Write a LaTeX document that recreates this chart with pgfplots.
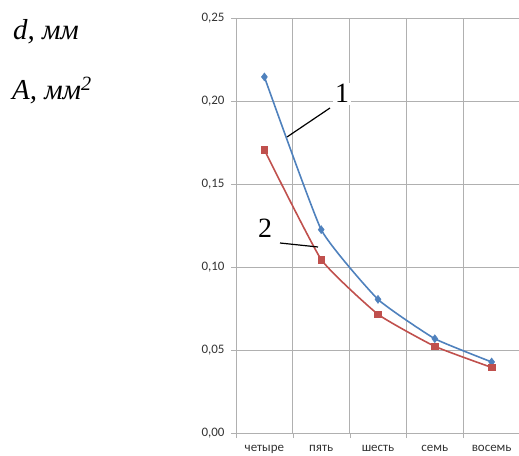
\documentclass[border=0pt]{standalone}
\usepackage{fontspec}
\setmainfont{Carlito}
\newfontfamily\serif{Liberation Serif}
\usepackage{pgfplots}
\usetikzlibrary{calc}
\pgfplotsset{compat=1.18}
\definecolor{xblue}{HTML}{4F81BD}
\definecolor{xred}{HTML}{C0504D}
\definecolor{xgrid}{HTML}{B0B0B0}
\begin{document}
\begin{tikzpicture}
\begin{axis}[
  scale only axis, width=284bp, height=415bp,
  xmin=-0.5, xmax=4.5, ymin=0, ymax=0.25,
  xtick={0,1,2,3,4},
  xticklabels={четыре,пять,шесть,семь,восемь},
  major x tick style={draw=none},
  minor xtick={-0.5,0.5,1.5,2.5,3.5,4.5},
  xminorgrids=true,
  minor tick length=5bp,
  ytick={0,0.05,0.1,0.15,0.2,0.25},
  ymajorgrids=true,
  major tick length=5bp,
  tick align=outside,
  axis line style={xgrid},
  tick style={xgrid},
  grid style={xgrid, line width=0.8pt},
  minor grid style={xgrid, line width=0.8pt},
  ticklabel style={font=\fontsize{13}{15}\selectfont, text=black!80},
  xticklabel style={yshift=-4bp},
  yticklabel style={xshift=-3bp, /pgf/number format/.cd, fixed, fixed zerofill, precision=2, use comma, assume math mode=true},
  xtick pos=bottom, ytick pos=left,
  clip=false,
]
\coordinate (O) at (rel axis cs:0,0);
\addplot[xblue, line width=1.6pt, smooth, tension=0.25, mark=diamond*, mark size=4pt, mark options={fill=xblue, line width=0.5pt}]
  coordinates {(0,0.2145) (1,0.1225) (2,0.0805) (3,0.0568) (4,0.0428)};
\addplot[xred, line width=1.6pt, smooth, tension=0.25, mark=square*, mark size=3.3pt, mark options={fill=xred, line width=0.5pt}]
  coordinates {(0,0.1705) (1,0.1045) (2,0.0715) (3,0.0522) (4,0.0395)};
\end{axis}
\begin{scope}[shift={($(O)+(-236bp,433bp)$)}, x=1bp, y=-1bp]
  \node[anchor=base west, inner sep=0, font=\serif\itshape\fontsize{29}{32}\selectfont] at (13,40) {d, мм};
  \node[anchor=base west, inner sep=0, font=\serif\itshape\fontsize{29}{32}\selectfont] at (12,100) {A, мм\textsuperscript{2}};
  \draw[black, line width=1.2pt] (330,108) -- (287,137);
  \node[anchor=base, fill=white, inner sep=2pt, font=\serif\fontsize{28}{30}\selectfont] at (342,103) {1};
  \draw[black, line width=1.2pt] (280,243) -- (318,247);
  \node[anchor=base, inner sep=0, font=\serif\fontsize{28}{30}\selectfont] at (265,238) {2};
  \pgfresetboundingbox
  \path[use as bounding box] (0,0) rectangle (519,456);
\end{scope}
\end{tikzpicture}
\end{document}
